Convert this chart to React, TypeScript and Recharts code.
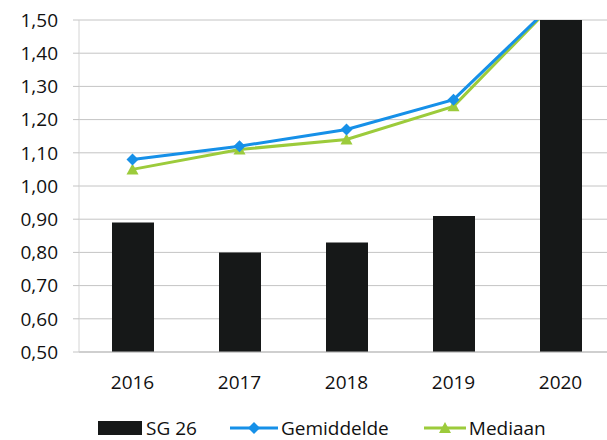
import React from 'react';
import { ComposedChart, Bar, Line, CartesianGrid, XAxis, YAxis, Legend } from 'recharts';

const years = ['2016', '2017', '2018', '2019', '2020'];
const sg26 = [0.89, 0.8, 0.83, 0.91, 1.55];
const gemiddelde = [1.08, 1.12, 1.17, 1.26, 1.57];
const mediaan = [1.05, 1.11, 1.14, 1.24, 1.57];
const yTicks = [0.5, 0.6, 0.7, 0.8, 0.9, 1.0, 1.1, 1.2, 1.3, 1.4, 1.5];

const data = years.map((year, i) => ({
  year,
  sg26: sg26[i],
  gemiddelde: gemiddelde[i],
  mediaan: mediaan[i],
}));

const FONT = '"Open Sans", sans-serif';
const BLUE = '#1690e8';
const GREEN = '#9ccb3b';
const BAR = '#161818';

const Diamond = (props: any) => {
  const { cx, cy } = props;
  if (cx == null || cy == null) return null;
  return <path d={`M${cx},${cy - 6}L${cx + 6},${cy}L${cx},${cy + 6}L${cx - 6},${cy}Z`} fill={BLUE} />;
};

const Triangle = (props: any) => {
  const { cx, cy } = props;
  if (cx == null || cy == null) return null;
  return <path d={`M${cx},${cy - 6}L${cx + 6},${cy + 5}L${cx - 6},${cy + 5}Z`} fill={GREEN} />;
};

const fmt = (v: number) => v.toFixed(2).replace('.', ',');

const LegendContent = () => (
  <div
    style={{
      display: 'flex',
      alignItems: 'center',
      height: 20,
      lineHeight: '20px',
      paddingLeft: 98,
      marginTop: 28,
      fontFamily: FONT,
      fontSize: 19,
      color: '#111',
    }}
  >
    <svg width={45} height={16} style={{ marginRight: 3 }}>
      <rect x={0} y={1} width={44} height={14} fill={BAR} />
    </svg>
    <span style={{ marginRight: 33 }}>SG 26</span>
    <svg width={48} height={16} style={{ marginRight: 3 }}>
      <line x1={0} y1={8} x2={48} y2={8} stroke={BLUE} strokeWidth={3} />
      <path d="M24,2L30,8L24,14L18,8Z" fill={BLUE} />
    </svg>
    <span style={{ marginRight: 35 }}>Gemiddelde</span>
    <svg width={42} height={16} style={{ marginRight: 3 }}>
      <line x1={0} y1={8} x2={42} y2={8} stroke={GREEN} strokeWidth={3} />
      <path d="M21,2L27,13L15,13Z" fill={GREEN} />
    </svg>
    <span>Mediaan</span>
  </div>
);

export default function App() {
  return (
    <div style={{ position: 'fixed', left: 0, top: 0, width: 607, height: 440, overflow: 'hidden', background: '#fff' }}>
      <ComposedChart width={614} height={440} data={data} margin={{ top: 20, right: 0, bottom: 0, left: 0 }}>
        <CartesianGrid vertical={false} stroke="#c4c4c4" />
        <XAxis
          dataKey="year"
          height={38}
          tickLine={false}
          axisLine={{ stroke: '#bdbdbd' }}
          tickMargin={18}
          tick={{ fontFamily: FONT, fontSize: 19, fill: '#111' }}
        />
        <YAxis
          width={79}
          domain={[0.5, 1.5]}
          ticks={yTicks}
          allowDataOverflow
          tickFormatter={fmt}
          tickSize={6}
          tickMargin={15}
          tickLine={{ stroke: '#c4c4c4' }}
          axisLine={{ stroke: '#d4d4d4' }}
          tick={{ fontFamily: FONT, fontSize: 19, fill: '#111' }}
        />
        <Legend verticalAlign="bottom" height={50} content={<LegendContent />} />
        <Bar dataKey="sg26" name="SG 26" fill={BAR} barSize={42} isAnimationActive={false} />
        <Line
          dataKey="mediaan"
          name="Mediaan"
          stroke={GREEN}
          strokeWidth={3}
          dot={<Triangle />}
          activeDot={false}
          isAnimationActive={false}
        />
        <Line
          dataKey="gemiddelde"
          name="Gemiddelde"
          stroke={BLUE}
          strokeWidth={3}
          dot={<Diamond />}
          activeDot={false}
          isAnimationActive={false}
        />
      </ComposedChart>
    </div>
  );
}
